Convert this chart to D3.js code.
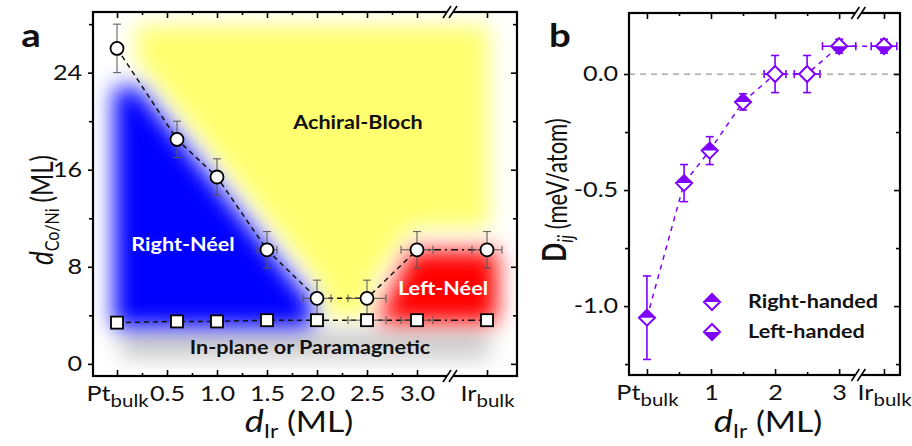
<!DOCTYPE html>
<html>
<head>
<meta charset="utf-8">
<script src="https://cdn.jsdelivr.net/npm/d3@7"></script>
<style>
  body { margin: 0; background: #fff; }
  svg text { font-family: Lato, "Open Sans", sans-serif; }
</style>
</head>
<body>
<div id="chart"></div>
<script>
// ---- panel a : phase diagram ----
const dIrA = [0, 0.6, 1.0, 1.5, 2.0, 2.5, 3.0, 3.7];
const dCircle = [26.0, 18.5, 15.4, 9.4, 5.4, 5.4, 9.4, 9.4];     // upper transition
const dCircleErrY = [2.0, 1.5, 1.5, 1.5, 1.5, 1.5, 1.5, 1.5];
const dCircleErrX = [0, 0, 0, 0.1, 0.14, 0.19, 0.16, 0.15];
const dSquare = [3.4, 3.5, 3.5, 3.6, 3.6, 3.6, 3.6, 3.6];        // in-plane / out-of-plane
const dSquareErrX = [0, 0, 0, 0, 0, 0.19, 0.16, 0];
const xTicksA = [0, 0.5, 1.0, 1.5, 2.0, 2.5, 3.0, 3.7];
const xLabelsA = ["Pt_bulk", "0.5", "1.0", "1.5", "2.0", "2.5", "3.0", "Ir_bulk"];
const xMinorA = [0.25, 0.75, 1.25, 1.75, 2.25, 2.75];
const yTicksA = [0, 8, 16, 24];
const yMinorA = [4, 12, 20, 28];

// phase regions (outline in data units, blurred when drawn)
const regionYellow = [[0.18, 27.9], [3.72, 27.9], [3.72, 11.2], [2.95, 11.2], [2.55, 6.6],
                      [2.5, 3.9], [2.1, 3.9], [2.05, 6.4], [0.2, 25.0]];
const regionGray = [[0.05, 0.5], [0.05, 2.7], [3.72, 2.7], [3.72, 0.5]];
const regionBlue = [[-0.03, 22.8], [0.2, 22.8], [1.95, 5.0], [1.95, 3.0], [-0.03, 3.0]];
const regionRed = [[2.6, 3.4], [2.95, 9.3], [3.8, 9.3], [3.8, 3.4]];

// ---- panel b : DMI ----
const dIrB = [0, 0.58, 0.98, 1.5, 2.0, 2.5, 3.0, 3.7];
const dmi = [-1.05, -0.47, -0.33, -0.12, 0.0, 0.0, 0.12, 0.12];
const dmiErrY = [0.18, 0.08, 0.06, 0.035, 0.08, 0.08, 0.03, 0.03];
const dmiErrX = [0, 0, 0, 0, 0.17, 0.2, 0.26, 0.2];
const handed = ["right", "right", "right", "right", "none", "none", "left", "left"];
const xTicksB = [0, 1, 2, 3, 3.7];
const xLabelsB = ["Pt_bulk", "1", "2", "3", "Ir_bulk"];
const xMinorB = [0.5, 1.5, 2.5];
const yTicksB = [0, -0.5, -1.0];
const yMinorB = [-0.25, -0.75, -1.25];

const purple = "#7f00ff";
const W = 912, H = 446;
const stretch = 1.2; // the original figure text is a bit wide

let svg = d3.select("#chart").append("svg")
  .attr("width", W)
  .attr("height", H)
  .style("background-color", "#fff");

let defs = svg.append("defs");
defs.append("filter")
    .attr("id", "soft")
    .attr("x", "-40%").attr("y", "-40%").attr("width", "180%").attr("height", "180%")
  .append("feGaussianBlur")
    .attr("stdDeviation", 11);

let xA = d3.scaleLinear().domain([-0.24, 4.0]).range([93, 517]);
let yA = d3.scaleLinear().domain([-1.0, 29.0]).range([376, 12]);
let xB = d3.scaleLinear().domain([-0.28, 3.95]).range([629, 900]);
let yB = d3.scaleLinear().domain([-1.297, 0.263]).range([375, 13]);

defs.append("clipPath").attr("id", "clipA")
  .append("rect")
    .attr("x", xA.range()[0]).attr("y", yA.range()[1])
    .attr("width", xA.range()[1] - xA.range()[0])
    .attr("height", yA.range()[0] - yA.range()[1]);

// label with optional subscript, "Pt_bulk" -> Pt + sub
function subLabel(textSel, str, big, small) {
  let parts = str.split("_");
  textSel.text(null);
  textSel.append("tspan").attr("font-size", big).text(parts[0]);
  if (parts[1]) textSel.append("tspan").attr("font-size", small).attr("dy", "0.35em").text(parts[1]);
}

// horizontal text placed with a small horizontal stretch
function label(g, x, y, str, size, opts = {}) {
  return g.append("text")
    .attr("transform", `translate(${x},${y}) scale(${stretch},1)`)
    .attr("dy", opts.dy ?? "0.35em")
    .attr("text-anchor", opts.anchor || "middle")
    .attr("font-size", size)
    .attr("font-weight", opts.weight || "normal")
    .attr("fill", opts.fill || "#111")
    .text(str);
}

function frame(g, x, y, o) {
  let [x0, x1] = x.range(), [y0, y1] = y.range();

  let bottom = g.append("g")
    .attr("transform", `translate(0,${y0})`)
    .call(d3.axisBottom(x).tickValues(o.xMajor).tickSizeInner(-6).tickSizeOuter(0).tickPadding(10)
      .tickFormat((d, i) => o.xLabels[i]));
  bottom.selectAll("text").each(function (d, i) {
    subLabel(d3.select(this), o.xLabels[i], 21, 17);
  });
  g.append("g").attr("transform", `translate(0,${y0})`)
    .call(d3.axisBottom(x).tickValues(o.xMinor).tickSizeInner(-3).tickSizeOuter(0).tickFormat(""));
  g.append("g").attr("transform", `translate(0,${y1})`)
    .call(d3.axisTop(x).tickValues(o.xMajor).tickSizeInner(-6).tickSizeOuter(0).tickFormat(""));
  g.append("g").attr("transform", `translate(0,${y1})`)
    .call(d3.axisTop(x).tickValues(o.xMinor).tickSizeInner(-3).tickSizeOuter(0).tickFormat(""));

  g.append("g").attr("transform", `translate(${x0},0)`)
    .call(d3.axisLeft(y).tickValues(o.yMajor).tickSizeInner(5).tickSizeOuter(0).tickPadding(4)
      .tickFormat(o.yFmt));
  g.append("g").attr("transform", `translate(${x0},0)`)
    .call(d3.axisLeft(y).tickValues(o.yMinor).tickSizeInner(4).tickSizeOuter(0).tickFormat(""));
  g.append("g").attr("transform", `translate(${x1},0)`)
    .call(d3.axisRight(y).tickValues(o.yMajor).tickSizeInner(-6).tickSizeOuter(0).tickFormat(""));
  g.append("g").attr("transform", `translate(${x1},0)`)
    .call(d3.axisRight(y).tickValues(o.yMinor).tickSizeInner(-4).tickSizeOuter(0).tickFormat(""));

  g.selectAll(".domain").remove();
  g.selectAll(".tick line").attr("stroke", "#000").attr("stroke-width", 1.6);
  g.selectAll(".tick text")
    .attr("fill", "#111")
    .attr("font-size", 21)
    .attr("transform", `scale(${stretch},1)`)
    .style("font-family", "Lato, 'Open Sans', sans-serif");

  g.append("rect")
    .attr("x", x0).attr("y", y1)
    .attr("width", x1 - x0).attr("height", y0 - y1)
    .attr("fill", "none")
    .attr("stroke", "#000")
    .attr("stroke-width", 2.2);

  // axis break marks top and bottom
  let bx = x(o.breakAt);
  [y0, y1].forEach(yy => {
    g.append("rect")
      .attr("x", bx - 3).attr("y", yy - 3)
      .attr("width", 6).attr("height", 6)
      .attr("fill", "#fff");
    [-3, 3].forEach(off => {
      g.append("line")
        .attr("x1", bx + off - 4).attr("y1", yy + 6)
        .attr("x2", bx + off + 4).attr("y2", yy - 6)
        .attr("stroke", "#000")
        .attr("stroke-width", 1.6);
    });
  });
}

function errorBars(g, data, x, y, col, w) {
  let eb = g.append("g").attr("stroke", col).attr("stroke-width", w).attr("fill", "none");
  data.filter(d => d.ey > 0).forEach(d => {
    eb.append("line").attr("x1", x(d.x)).attr("x2", x(d.x)).attr("y1", y(d.y - d.ey)).attr("y2", y(d.y + d.ey));
    [d.y - d.ey, d.y + d.ey].forEach(v =>
      eb.append("line").attr("x1", x(d.x) - 4).attr("x2", x(d.x) + 4).attr("y1", y(v)).attr("y2", y(v)));
  });
  data.filter(d => d.ex > 0).forEach(d => {
    eb.append("line").attr("x1", x(d.x - d.ex)).attr("x2", x(d.x + d.ex)).attr("y1", y(d.y)).attr("y2", y(d.y));
    [d.x - d.ex, d.x + d.ex].forEach(v =>
      eb.append("line").attr("x1", x(v)).attr("x2", x(v)).attr("y1", y(d.y) - 4).attr("y2", y(d.y) + 4));
  });
}

// ================= panel a =================
let ga = svg.append("g");

let regions = ga.append("g")
  .attr("clip-path", "url(#clipA)");
let area = d3.line().x(d => xA(d[0])).y(d => yA(d[1])).curve(d3.curveLinearClosed);
[[regionYellow, "#ffff70"], [regionGray, "#c8c8c8"], [regionBlue, "#0000ff"], [regionRed, "#ff0000"]]
  .forEach(([pts, col]) => {
    regions.append("path")
      .attr("d", area(pts))
      .attr("fill", col)
      .attr("filter", "url(#soft)");
  });

// phase labels
label(ga, xA(2.41), yA(19.9), "Achiral-Bloch", 18, { weight: "bold" });
label(ga, xA(0.66), yA(9.8), "Right-Néel", 18, { weight: "bold", fill: "#fff" });
label(ga, xA(3.26), yA(6.2), "Left-Néel", 18, { weight: "bold", fill: "#fff" });
label(ga, xA(1.93), yA(1.3), "In-plane or Paramagnetic", 18, { weight: "bold" });

frame(ga, xA, yA, {
  xMajor: xTicksA, xLabels: xLabelsA, xMinor: xMinorA,
  yMajor: yTicksA, yMinor: yMinorA, yFmt: d3.format("d"), breakAt: 3.33
});

let circles = dIrA.map((x, i) => ({ x, y: dCircle[i], ey: dCircleErrY[i], ex: dCircleErrX[i] }));
let squares = dIrA.map((x, i) => ({ x, y: dSquare[i], ey: 0, ex: dSquareErrX[i] }));

let lineA = d3.line().x(d => xA(d.x)).y(d => yA(d.y));
[circles, squares].forEach(set => {
  ga.append("path")
    .attr("d", lineA(set.slice(0, 7)))
    .attr("fill", "none").attr("stroke", "#111").attr("stroke-width", 1.5)
    .attr("stroke-dasharray", "5,4");
  ga.append("path")
    .attr("d", lineA(set.slice(6)))
    .attr("fill", "none").attr("stroke", "#111").attr("stroke-width", 1.5)
    .attr("stroke-dasharray", "7,4,2,4");
});

errorBars(ga, circles, xA, yA, "#555", 1);
errorBars(ga, squares, xA, yA, "#555", 1);

ga.selectAll("circle.pt")
  .data(circles)
  .join("circle")
    .attr("class", "pt")
    .attr("cx", d => xA(d.x))
    .attr("cy", d => yA(d.y))
    .attr("r", 6.5)
    .attr("fill", "#fff")
    .attr("stroke", "#000")
    .attr("stroke-width", 1.8);

ga.selectAll("rect.pt")
  .data(squares)
  .join("rect")
    .attr("class", "pt")
    .attr("x", d => xA(d.x) - 6)
    .attr("y", d => yA(d.y) - 6)
    .attr("width", 12)
    .attr("height", 12)
    .attr("fill", "#fff")
    .attr("stroke", "#000")
    .attr("stroke-width", 1.8);

// axis titles a
label(svg, 31, 47, "a", 32, { weight: "bold", dy: 0 });

let xtA = label(svg, 299, 432, "", 28, { dy: 0 });
xtA.append("tspan").attr("font-size", 30).attr("font-style", "italic").text("d");
xtA.append("tspan").attr("font-size", 19).attr("dy", "0.3em").text("Ir");
xtA.append("tspan").attr("font-size", 28).attr("dy", "-0.2em").text(" (ML)");

let ytA = svg.append("text")
  .attr("transform", "translate(53,210) rotate(-90) scale(1,1.25)")
  .attr("text-anchor", "middle").attr("fill", "#111");
ytA.append("tspan").attr("font-size", 26).attr("font-style", "italic").text("d");
ytA.append("tspan").attr("font-size", 16).attr("dy", "0.3em").text("Co/Ni");
ytA.append("tspan").attr("font-size", 24).attr("dy", "-0.2em").text(" (ML)");

// ================= panel b =================
let gb = svg.append("g");

gb.append("line")
  .attr("x1", xB.range()[0]).attr("x2", xB.range()[1])
  .attr("y1", yB(0)).attr("y2", yB(0))
  .attr("stroke", "#999").attr("stroke-width", 1.2)
  .attr("stroke-dasharray", "6,5");

frame(gb, xB, yB, {
  xMajor: xTicksB, xLabels: xLabelsB, xMinor: xMinorB,
  yMajor: yTicksB, yMinor: yMinorB, yFmt: d => d.toFixed(1), breakAt: 3.3
});

let dmiPts = dIrB.map((x, i) => ({ x, y: dmi[i], ey: dmiErrY[i], ex: dmiErrX[i], h: handed[i] }));

gb.append("path")
  .attr("d", d3.line().x(d => xB(d.x)).y(d => yB(d.y))(dmiPts))
  .attr("fill", "none").attr("stroke", purple).attr("stroke-width", 1.5)
  .attr("stroke-dasharray", "5,5");

errorBars(gb, dmiPts, xB, yB, purple, 1.6);

function diamond(g, cx, cy, h) {
  let s = 8;
  g.append("path")
    .attr("d", `M${cx},${cy - s}L${cx + s},${cy}L${cx},${cy + s}L${cx - s},${cy}Z`)
    .attr("fill", "#fff").attr("stroke", purple).attr("stroke-width", 2);
  if (h === "right") {
    g.append("path")
      .attr("d", `M${cx - s},${cy}L${cx},${cy - s}L${cx + s},${cy}Z`)
      .attr("fill", purple);
  } else if (h === "left") {
    g.append("path")
      .attr("d", `M${cx - s},${cy}L${cx},${cy + s}L${cx + s},${cy}Z`)
      .attr("fill", purple);
  }
}

dmiPts.forEach(d => diamond(gb, xB(d.x), yB(d.y), d.h));

// legend
let legend = gb.append("g");
[["right", "Right-handed"], ["left", "Left-handed"]].forEach(([h, name], i) => {
  diamond(legend, 712, 302 + i * 30, h);
  label(legend, 748, 302 + i * 30, name, 18, { weight: "bold", anchor: "start" });
});

label(svg, 560, 47, "b", 32, { weight: "bold", dy: 0 });

let xtB = label(svg, 768, 432, "", 28, { dy: 0 });
xtB.append("tspan").attr("font-size", 30).attr("font-style", "italic").text("d");
xtB.append("tspan").attr("font-size", 19).attr("dy", "0.3em").text("Ir");
xtB.append("tspan").attr("font-size", 28).attr("dy", "-0.2em").text(" (ML)");

let ytB = svg.append("text")
  .attr("transform", "translate(566,190) rotate(-90) scale(1,1.3)")
  .attr("text-anchor", "middle").attr("fill", "#111");
ytB.append("tspan").attr("font-size", 25).attr("font-weight", "bold").text("D");
ytB.append("tspan").attr("font-size", 17).attr("font-style", "italic").attr("dy", "0.3em").text("ij");
ytB.append("tspan").attr("font-size", 22).attr("dy", "-0.2em").text(" (meV/atom)");
</script>
</body>
</html>
